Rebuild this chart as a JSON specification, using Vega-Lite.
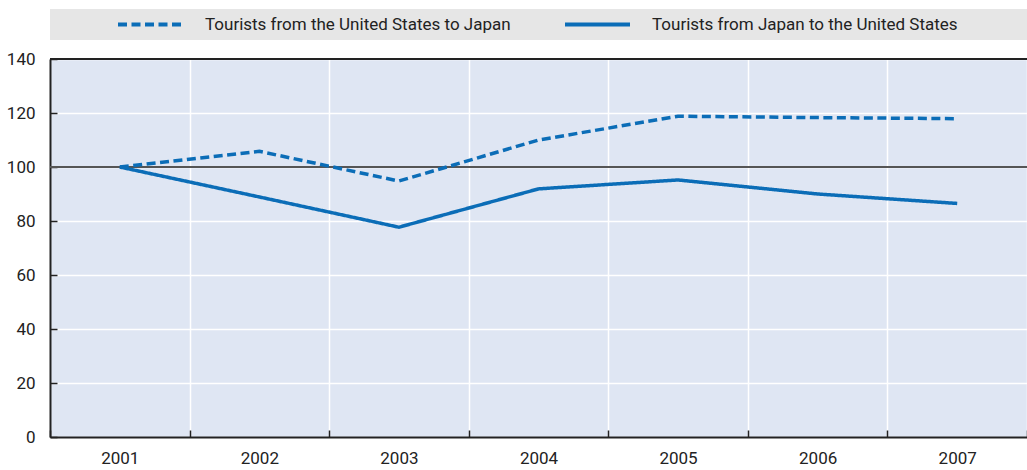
{
  "$schema": "https://vega.github.io/schema/vega-lite/v6.json",
  "width": 977,
  "height": 378,
  "autosize": {"type": "none"},
  "padding": {"left": 50, "top": 59, "right": 0, "bottom": 33},
  "background": "white",
  "config": {
    "font": "Roboto",
    "view": {"fill": "#dfe6f3", "stroke": null},
    "axis": {
      "title": null,
      "domainColor": "#222222",
      "domainWidth": 2,
      "tickColor": "#222222",
      "tickWidth": 1.5,
      "tickSize": -7,
      "gridColor": "#ffffff",
      "gridWidth": 1.5,
      "gridOpacity": 1,
      "labelFontSize": 17,
      "labelColor": "#222222"
    }
  },
  "data": {
    "values": [
      {"year": "2001", "series": "Tourists from the United States to Japan", "value": 100},
      {"year": "2002", "series": "Tourists from the United States to Japan", "value": 105.8},
      {"year": "2003", "series": "Tourists from the United States to Japan", "value": 94.8},
      {"year": "2004", "series": "Tourists from the United States to Japan", "value": 110},
      {"year": "2005", "series": "Tourists from the United States to Japan", "value": 118.8},
      {"year": "2006", "series": "Tourists from the United States to Japan", "value": 118.3},
      {"year": "2007", "series": "Tourists from the United States to Japan", "value": 117.9},
      {"year": "2001", "series": "Tourists from Japan to the United States", "value": 100},
      {"year": "2002", "series": "Tourists from Japan to the United States", "value": 88.9},
      {"year": "2003", "series": "Tourists from Japan to the United States", "value": 77.7},
      {"year": "2004", "series": "Tourists from Japan to the United States", "value": 91.9},
      {"year": "2005", "series": "Tourists from Japan to the United States", "value": 95.2},
      {"year": "2006", "series": "Tourists from Japan to the United States", "value": 90},
      {"year": "2007", "series": "Tourists from Japan to the United States", "value": 86.5}
    ]
  },
  "layer": [
    {
      "data": {"values": [{}]},
      "mark": {"type": "rule", "color": "#222222", "strokeWidth": 2},
      "encoding": {"y": {"datum": 140, "type": "quantitative"}}
    },
    {
      "data": {"values": [{}]},
      "mark": {"type": "rule", "color": "#555555", "strokeWidth": 2},
      "encoding": {"y": {"datum": 100, "type": "quantitative"}}
    },
    {
      "mark": {"type": "line", "strokeWidth": 3.5, "color": "#0b6db7"},
      "encoding": {
        "x": {
          "field": "year",
          "type": "ordinal",
          "bandPosition": 0.5,
          "scale": {"type": "band", "paddingInner": 0, "paddingOuter": 0},
          "axis": {"labelAngle": 0, "tickBand": "extent", "grid": true, "labelPadding": 20, "domain": true}
        },
        "y": {
          "field": "value",
          "type": "quantitative",
          "scale": {"domain": [0, 140], "nice": false},
          "axis": {"values": [0, 20, 40, 60, 80, 100, 120, 140], "grid": true, "labelPadding": 22}
        },
        "strokeDash": {
          "field": "series",
          "type": "nominal",
          "scale": {
            "domain": ["Tourists from the United States to Japan", "Tourists from Japan to the United States"],
            "range": [[9, 4.5], [1, 0]]
          },
          "legend": {
            "orient": "none",
            "legendX": 0,
            "legendY": -50,
            "direction": "horizontal",
            "title": "\u00a0",
            "titleFontSize": 17,
            "titleOrient": "left",
            "titlePadding": 60,
            "fillColor": "#e6e6e6",
            "padding": 6,
            "clipHeight": 19,
            "symbolType": "stroke",
            "symbolSize": 4225,
            "symbolStrokeWidth": 3.8,
            "symbolStrokeColor": "#0b6db7",
            "labelFontSize": 17,
            "labelColor": "#222222",
            "labelOffset": 20,
            "labelLimit": 500,
            "columnPadding": 52,
            "labelExpr": "indexof(datum.label, 'Japan to') >= 0 ? datum.label + '\u2002\u2002\u2002\u2002\u2002\u2002\u2002\u2002\u200b' : datum.label"
          }
        }
      }
    }
  ]
}
